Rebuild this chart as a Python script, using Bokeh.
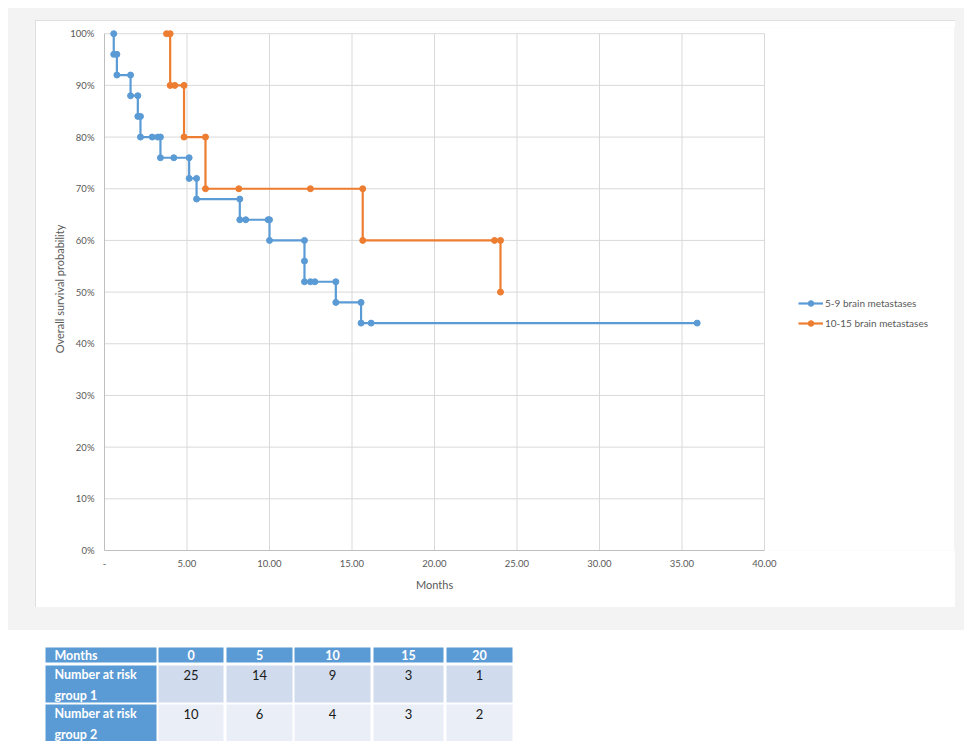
from bokeh.plotting import figure
from bokeh.models import (ColumnDataSource, Range1d, FixedTicker, NumeralTickFormatter,
                          Legend, LegendItem, Spacer, Title)
from bokeh.layouts import column, row
from bokeh.embed import file_html
from bokeh.resources import INLINE
from bokeh.core.properties import value

# ---------------- data ----------------
series_names = ["5-9 brain metastases", "10-15 brain metastases"]

months_g1 = [0.56, 0.56, 0.75, 0.75, 1.58, 1.58, 2.02, 2.02, 2.18, 2.18,
             2.89, 3.23, 3.39, 3.39, 4.20, 5.13, 5.13, 5.58, 5.58, 8.20,
             8.20, 8.56, 9.92, 10.00, 10.00, 12.12, 12.12, 12.12, 12.48, 12.75,
             14.02, 14.02, 15.55, 15.55, 16.16, 35.92]
surv_g1 = [1.00, 0.96, 0.96, 0.92, 0.92, 0.88, 0.88, 0.84, 0.84, 0.80,
           0.80, 0.80, 0.80, 0.76, 0.76, 0.76, 0.72, 0.72, 0.68, 0.68,
           0.64, 0.64, 0.64, 0.64, 0.60, 0.60, 0.56, 0.52, 0.52, 0.52,
           0.52, 0.48, 0.48, 0.44, 0.44, 0.44]

months_g2 = [3.76, 3.98, 3.98, 4.26, 4.82, 4.82, 6.12, 6.12, 8.14, 12.48,
             15.65, 15.65, 23.64, 24.00, 24.00]
surv_g2 = [1.00, 1.00, 0.90, 0.90, 0.90, 0.80, 0.80, 0.70, 0.70, 0.70,
           0.70, 0.60, 0.60, 0.60, 0.50]

x_ticks = [0, 5, 10, 15, 20, 25, 30, 35, 40]
x_tick_labels = ["-", "5.00", "10.00", "15.00", "20.00", "25.00", "30.00", "35.00", "40.00"]
y_ticks = [0.0, 0.1, 0.2, 0.3, 0.4, 0.5, 0.6, 0.7, 0.8, 0.9, 1.0]

table_header = ["Months", "0", "5", "10", "15", "20"]
risk_labels = ["Number at risk\ngroup 1", "Number at risk\ngroup 2"]
risk_group1 = [25, 14, 9, 3, 1]
risk_group2 = [10, 6, 4, 3, 2]

# ---------------- styles ----------------
FONT = "Lato"
BLUE = "#5b9bd5"
ORANGE = "#ed7d31"
GRID = "#d9d9d9"
AXIS = "#bfbfbf"
TXT = "#595959"
PANEL = "#f3f3f3"

# ---------------- chart ----------------
# The plot area (0..40 months) is 660 px wide; the frame continues to the right so the
# legend (drawn inside the frame) sits at the right of the chart as in the reference.
CW, CH = 920, 587
BL, BR, BT, BB = 69, 1, 7, 57
PLOT_W = 660
frame_w = CW - BL - BR
x_min, x_max = x_ticks[0], x_ticks[-1]
x_view_end = x_min + (x_max - x_min) * frame_w / PLOT_W

p = figure(width=CW, height=CH, x_range=Range1d(x_min, x_view_end), y_range=Range1d(0, 1.012),
           output_backend="svg", toolbar_location=None,
           min_border_left=BL, min_border_right=BR, min_border_top=BT, min_border_bottom=BB)
p.outline_line_color = None
p.background_fill_color = "white"
p.border_fill_color = "white"
p.styles = {"outline": "1px solid #d4d4d4", "outline-offset": "-1px"}

p.xgrid.visible = False
p.ygrid.visible = False

# gridlines restricted to the 0..40 x 0..100% area
p.segment(x0=x_ticks, y0=[y_ticks[0]] * len(x_ticks), x1=x_ticks, y1=[y_ticks[-1]] * len(x_ticks),
          line_color=GRID, line_width=1, level="underlay")
p.segment(x0=[x_min] * len(y_ticks), y0=y_ticks, x1=[x_max] * len(y_ticks), y1=y_ticks,
          line_color=GRID, line_width=1, level="underlay")

p.xaxis.ticker = FixedTicker(ticks=x_ticks)
p.xaxis.formatter = NumeralTickFormatter(format="0.00")
p.xaxis.major_label_overrides = dict(zip(x_ticks, x_tick_labels))
p.xaxis.bounds = (x_min, x_max)
p.yaxis.ticker = FixedTicker(ticks=y_ticks)
p.yaxis.formatter = NumeralTickFormatter(format="0%")
p.yaxis.axis_label = "Overall survival probability"
p.yaxis.bounds = (y_ticks[0], y_ticks[-1])

for ax in (p.xaxis[0], p.yaxis[0]):
    ax.major_tick_out = 0
    ax.major_tick_in = 0
    ax.minor_tick_out = 0
    ax.minor_tick_in = 0
    ax.axis_line_color = AXIS
    ax.major_label_text_font = FONT
    ax.major_label_text_font_size = "9.5px"
    ax.major_label_text_color = TXT
    ax.axis_label_text_font = FONT
    ax.axis_label_text_font_style = "normal"
    ax.axis_label_text_font_size = "11px"
    ax.axis_label_text_color = TXT

p.xaxis.major_label_standoff = 9
p.yaxis.major_label_standoff = 10
p.yaxis.axis_label_standoff = 1

# x-axis title centred under the 0..40 plot area (not under the wider frame)
months_text_w = 37
x_title = Title(text="Months", align="left",
                offset=PLOT_W / 2 - months_text_w / 2,
                text_font=FONT, text_font_size="11px", text_font_style="normal",
                text_color=TXT, standoff=12)
p.add_layout(x_title, "below")

src1 = ColumnDataSource(dict(x=months_g1, y=surv_g1))
src2 = ColumnDataSource(dict(x=months_g2, y=surv_g2))

l1 = p.line("x", "y", source=src1, line_color=BLUE, line_width=2.2)
s1 = p.scatter("x", "y", source=src1, marker="circle", size=6, fill_color=BLUE, line_color=BLUE)
l2 = p.line("x", "y", source=src2, line_color=ORANGE, line_width=2.2)
s2 = p.scatter("x", "y", source=src2, marker="circle", size=6, fill_color=ORANGE, line_color=ORANGE)

legend = Legend(items=[LegendItem(label=series_names[0], renderers=[l1, s1]),
                       LegendItem(label=series_names[1], renderers=[l2, s2])],
                location=(694, 217), glyph_width=25, glyph_height=14, label_height=20,
                label_standoff=2, spacing=0, padding=0, margin=0,
                border_line_color=None, background_fill_alpha=0,
                label_text_font=FONT, label_text_font_size="10px", label_text_color=TXT)
p.add_layout(legend)

# ---------------- table ----------------
TW, TH = 956, 111
t = figure(width=TW, height=TH, x_range=Range1d(0, TW), y_range=Range1d(TH, 0),
           output_backend="svg", toolbar_location=None, min_border=0,
           x_axis_type=None, y_axis_type=None)
t.outline_line_color = None
t.grid.visible = False

col_left = [37, 150, 218, 286, 365, 438]
col_right = [148, 215, 284, 362, 435, 504]
row_top = [17, 35, 74]
row_bottom = [32, 72, 115]
cell_fill = [[BLUE] * 6,
             [BLUE] + ["#d0dbee"] * 5,
             [BLUE] + ["#e9eef7"] * 5]

ql, qr, qt, qb, qc = [], [], [], [], []
for r in range(3):
    for c in range(6):
        ql.append(col_left[c]); qr.append(col_right[c])
        qt.append(row_top[r]); qb.append(row_bottom[r])
        qc.append(cell_fill[r][c])
t.quad(left=ql, right=qr, top=qt, bottom=qb, fill_color=qc, line_color=None)

col_center = [(a + b) / 2 for a, b in zip(col_left, col_right)]
hdr_y = (row_top[0] + row_bottom[0]) / 2

# header
t.text(x=[col_left[0] + 9], y=[hdr_y], text=[table_header[0]], text_font=value(FONT),
       text_font_style="bold", text_font_size="12.5px", text_color="white",
       text_align="left", text_baseline="middle")
t.text(x=col_center[1:], y=[hdr_y] * 5, text=table_header[1:], text_font=value(FONT),
       text_font_style="bold", text_font_size="12.5px", text_color="white",
       text_align="center", text_baseline="middle")

# row labels
t.text(x=[col_left[0] + 9] * 2, y=[row_top[1] + 1, row_top[2] + 1], text=risk_labels,
       text_font=value(FONT), text_font_style="bold", text_font_size="12.5px",
       text_color="white", text_align="left", text_baseline="top", text_line_height=1.4)

# values
for r, vals in ((1, risk_group1), (2, risk_group2)):
    t.text(x=col_center[1:], y=[row_top[r] + 9] * 5, text=[str(v) for v in vals],
           text_font=value(FONT), text_font_size="13px", text_color="#1a1a1a",
           text_align="center", text_baseline="middle")

# ---------------- layout ----------------
panel = column(
    Spacer(width=956, height=12),
    row(Spacer(width=27, height=587), p, Spacer(width=9, height=587)),
    Spacer(width=956, height=23),
    styles={"background-color": PANEL},
)
page = column(
    Spacer(width=964, height=8),
    row(Spacer(width=8, height=733), column(panel, t)),
)

open("out.html", "w").write(file_html(page, INLINE))
